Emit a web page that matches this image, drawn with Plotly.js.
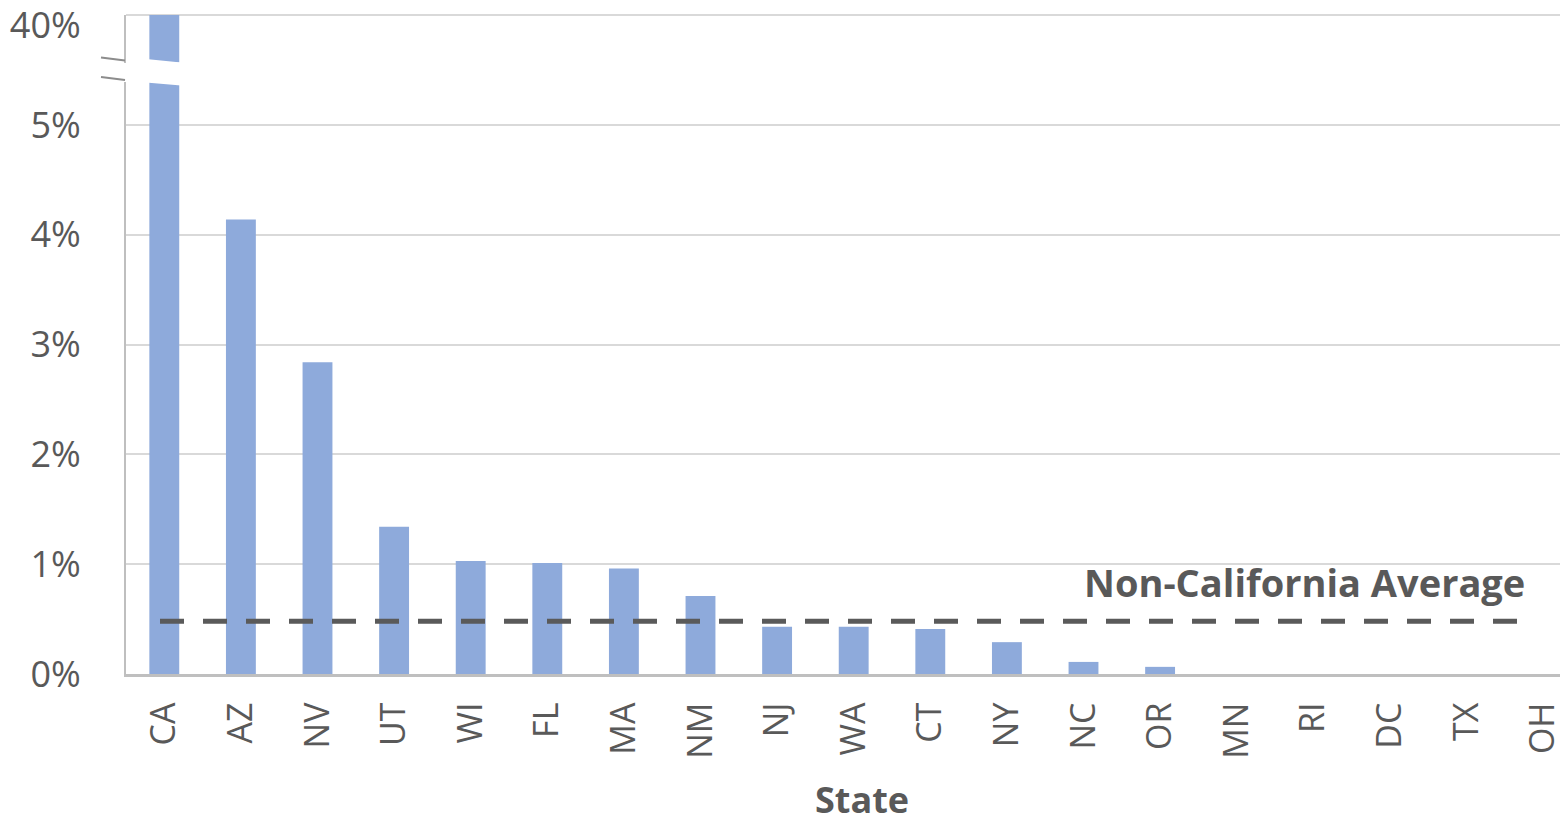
<!DOCTYPE html>
<html>
<head>
<meta charset="utf-8">
<script src="https://cdn.plot.ly/plotly-3.0.1.min.js"></script>
<style>html,body{margin:0;padding:0;background:#fff;}#chart{width:1560px;height:817px;}</style>
</head>
<body>
<div id="chart"></div>
<script>
// ---- data ----
var states = ["CA","AZ","NV","UT","WI","FL","MA","NM","NJ","WA","CT","NY","NC","OR","MN","RI","DC","TX","OH"];
var shares = [40, 4.14, 2.84, 1.34, 1.03, 1.01, 0.96, 0.71, 0.43, 0.43, 0.41, 0.29, 0.11, 0.065, 0, 0, 0, 0, 0];
var nonCaliforniaAverage = 0.48;
var lowerTicks = [0, 1, 2, 3, 4, 5];
var lowerTickText = ["0%", "1%", "2%", "3%", "4%", "5%"];
var upperTicks = [40];
var upperTickText = ["40%"];
var averageLabel = "Non-California Average";
var xTitle = "State";

// ---- geometry helpers (pixel -> paper) ----
var L = 126, R = 0, T = 15, B = 143, W = 1560, H = 817;
var PW = W - L - R, PH = H - T - B;
function px(x){ return (x - L) / PW; }
function py(y){ return (H - B - y) / PH; }
var pxPerPct = 109.8;
var lowerTopPx = 82, upperBotPx = 62.5;
var lowerMax = (H - B - lowerTopPx) / pxPerPct;
var upperMin = upperTicks[0] - (upperBotPx - T) / pxPerPct;

var barColor = "#8eaadb";
var txtColor = "#595959";
var font = "Open Sans, Noto Sans, sans-serif";

var traces = [
  {type: "bar", x: states, y: shares, xaxis: "x", yaxis: "y",
   marker: {color: barColor}, width: 0.39, hoverinfo: "x+y"},
  {type: "bar", x: states, y: shares, xaxis: "x", yaxis: "y2",
   marker: {color: barColor}, width: 0.39, hoverinfo: "x+y"}
];

function path(pts){
  return "M" + pts.map(function(p){ return px(p[0]) + "," + py(p[1]); }).join(" L") + " Z";
}

var shapes = [
  // top gridline (40%)
  {type: "line", xref: "paper", yref: "paper", x0: 0, x1: 1, y0: 1, y1: 1,
   line: {color: "#d9d9d9", width: 2}, layer: "below"},
  // average dashed line
  {type: "line", xref: "paper", yref: "y", x0: px(160), x1: px(1527),
   y0: nonCaliforniaAverage, y1: nonCaliforniaAverage,
   line: {color: "#5a5a5a", width: 5, dash: "24px,19px"}},
  // slanted cuts on the CA bar
  {type: "path", xref: "paper", yref: "paper", path: path([[146,80.5],[181,80.5],[181,85.6],[146,82.5]]),
   fillcolor: "#ffffff", line: {width: 0}},
  {type: "path", xref: "paper", yref: "paper", path: path([[146,59.1],[181,62.6],[181,64],[146,64]]),
   fillcolor: "#ffffff", line: {width: 0}},
  // axis break marks
  {type: "line", xref: "paper", yref: "paper", x0: px(101), y0: py(57.5), x1: px(125), y1: py(60.5),
   line: {color: "#8c8c8c", width: 2}},
  {type: "line", xref: "paper", yref: "paper", x0: px(101), y0: py(77), x1: px(125), y1: py(80),
   line: {color: "#8c8c8c", width: 2}}
];

var layout = {
  width: W, height: H,
  margin: {l: L, r: R, t: T, b: B, pad: 0},
  paper_bgcolor: "#ffffff", plot_bgcolor: "#ffffff",
  showlegend: false,
  bargap: 0.61,
  font: {family: font, color: txtColor},
  xaxis: {
    type: "category", range: [-0.5, -0.5 + PW / 76.6],
    tickangle: -90, tickfont: {size: 34, color: txtColor, family: font},
    ticks: "outside", ticklen: 12, tickcolor: "rgba(0,0,0,0)",
    ticklabeloverflow: "allow",
    showline: true, linecolor: "#bfbfbf", linewidth: 3,
    showgrid: false, zeroline: false, anchor: "y", fixedrange: true
  },
  yaxis: {
    domain: [0, py(lowerTopPx)], range: [0, lowerMax],
    tickvals: lowerTicks, ticktext: lowerTickText,
    tickfont: {size: 36, color: txtColor, family: font},
    ticks: "outside", ticklen: 36, tickcolor: "rgba(0,0,0,0)",
    ticklabeloverflow: "allow",
    showline: true, linecolor: "#bfbfbf", linewidth: 2,
    showgrid: true, gridcolor: "#d9d9d9", gridwidth: 2,
    zeroline: false, anchor: "x", fixedrange: true
  },
  yaxis2: {
    domain: [py(upperBotPx), 1], range: [upperMin, upperTicks[0]],
    tickvals: upperTicks, ticktext: upperTickText,
    tickfont: {size: 36, color: txtColor, family: font},
    ticks: "outside", ticklen: 36, tickcolor: "rgba(0,0,0,0)",
    ticklabelshift: 10, ticklabeloverflow: "allow",
    showline: true, linecolor: "#bfbfbf", linewidth: 2,
    showgrid: true, gridcolor: "#d9d9d9", gridwidth: 2,
    zeroline: false, anchor: "x", fixedrange: true
  },
  shapes: shapes,
  annotations: [
    {text: averageLabel, xref: "paper", yref: "y", x: px(1527), y: (H - B - 582) / pxPerPct,
     xanchor: "right", yanchor: "middle", showarrow: false,
     font: {size: 38, color: txtColor, family: font, weight: "bold"}},
    {text: xTitle, xref: "paper", yref: "paper", x: px(862), y: py(799),
     xanchor: "center", yanchor: "middle", showarrow: false, height: 34,
     font: {size: 36, color: txtColor, family: font, weight: "bold"}}
  ]
};

Plotly.newPlot("chart", traces, layout, {displayModeBar: false, staticPlot: true});
</script>
</body>
</html>
